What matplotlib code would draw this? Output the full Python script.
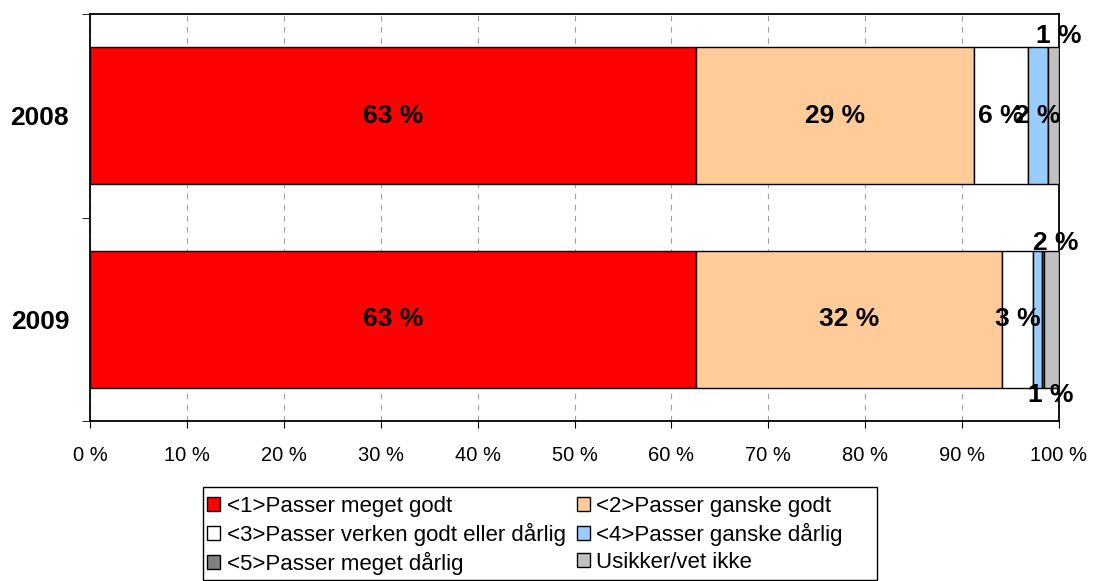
import numpy as np
import matplotlib
matplotlib.use("Agg")
import matplotlib.pyplot as plt
from matplotlib.patches import Patch, Rectangle

plt.rcParams["font.family"] = ["Liberation Sans", "DejaVu Sans"]

years = ["2008", "2009"]
categories = ["<1>Passer meget godt", "<2>Passer ganske godt",
              "<3>Passer verken godt eller dårlig", "<4>Passer ganske dårlig",
              "<5>Passer meget dårlig", "Usikker/vet ikke"]
# percent per year, one list per category
v1 = [62.5, 62.5]
v2 = [28.7, 31.6]
v3 = [5.6, 3.2]
v4 = [2.1, 0.9]
v5 = [0.0, 0.3]
v6 = [1.1, 1.5]
series = [v1, v2, v3, v4, v5, v6]
colors = ["#FF0000", "#FFCC99", "#FFFFFF", "#99CCFF", "#808080", "#C0C0C0"]

W, H = 1094, 581
fig = plt.figure(figsize=(W / 100, H / 100), dpi=100)
ax = fig.add_axes([90/W, 1-421/H, 969/W, 407/H])

y = np.arange(len(years))
left = np.zeros(len(years))
# label nudges for the thin segments: (series, year) -> (dx, y)
nudge = {(5, 0): (0.5, -0.39), (5, 1): (0.4, 0.625), (3, 1): (1.4, 1.372)}
for i, (vals, c) in enumerate(zip(series, colors)):
    vals = np.array(vals)
    ax.barh(y, vals, left=left, height=0.673, color=c, edgecolor="black",
            lw=1, zorder=3)
    for j, v in enumerate(vals):
        r = int(v + 0.5)
        if r == 0:
            continue
        cx = left[j] + v / 2
        cy = y[j]
        if (i, j) in nudge:
            dx, cy = nudge[(i, j)]
            cx += dx
        ax.text(cx, cy, f"{r} %", ha="center", va="center", fontsize=19,
                fontweight="bold", zorder=5)
    left += vals

ax.set_xlim(0, 100)
ax.set_ylim(1.5, -0.5)
ax.set_xticks(np.arange(0, 101, 10))
ax.set_xticklabels([f"{t} %" for t in range(0, 101, 10)], fontsize=14.5)
ax.tick_params(axis="x", length=5, pad=13, direction="out")
ax.set_yticks(y)
ax.set_yticklabels(years, fontsize=19, fontweight="bold")
ax.tick_params(axis="y", which="major", length=0, pad=15)
ax.set_yticks([-0.5, 0.5, 1.5], minor=True)
ax.tick_params(axis="y", which="minor", length=6, direction="out")
ax.grid(axis="x", color="#A0A0A0", ls=(0, (5, 5)), lw=0.8, zorder=0)
for s in ax.spines.values():
    s.set_linewidth(1.3)

# legend frame drawn separately: Excel box is wider than its entries
fig.add_artist(Rectangle((203/W, 1-580/H), 674/W, 93/H, transform=fig.transFigure,
                         facecolor="white", edgecolor="black", lw=1.0))
handles = [Patch(facecolor=c, edgecolor="black", label=l)
           for c, l in zip(colors, categories)]
order = [0, 2, 4, 1, 3, 5]
leg = fig.legend([handles[k] for k in order], [categories[k] for k in order],
                 ncol=2, loc="upper left", bbox_to_anchor=(207/W, 1-496/H),
                 fontsize=16, frameon=False,
                 handlelength=0.58, handleheight=0.58, handletextpad=0.3,
                 labelspacing=0.27, columnspacing=0.5, borderpad=0,
                 borderaxespad=0)

fig.savefig("out.png", dpi=100)
